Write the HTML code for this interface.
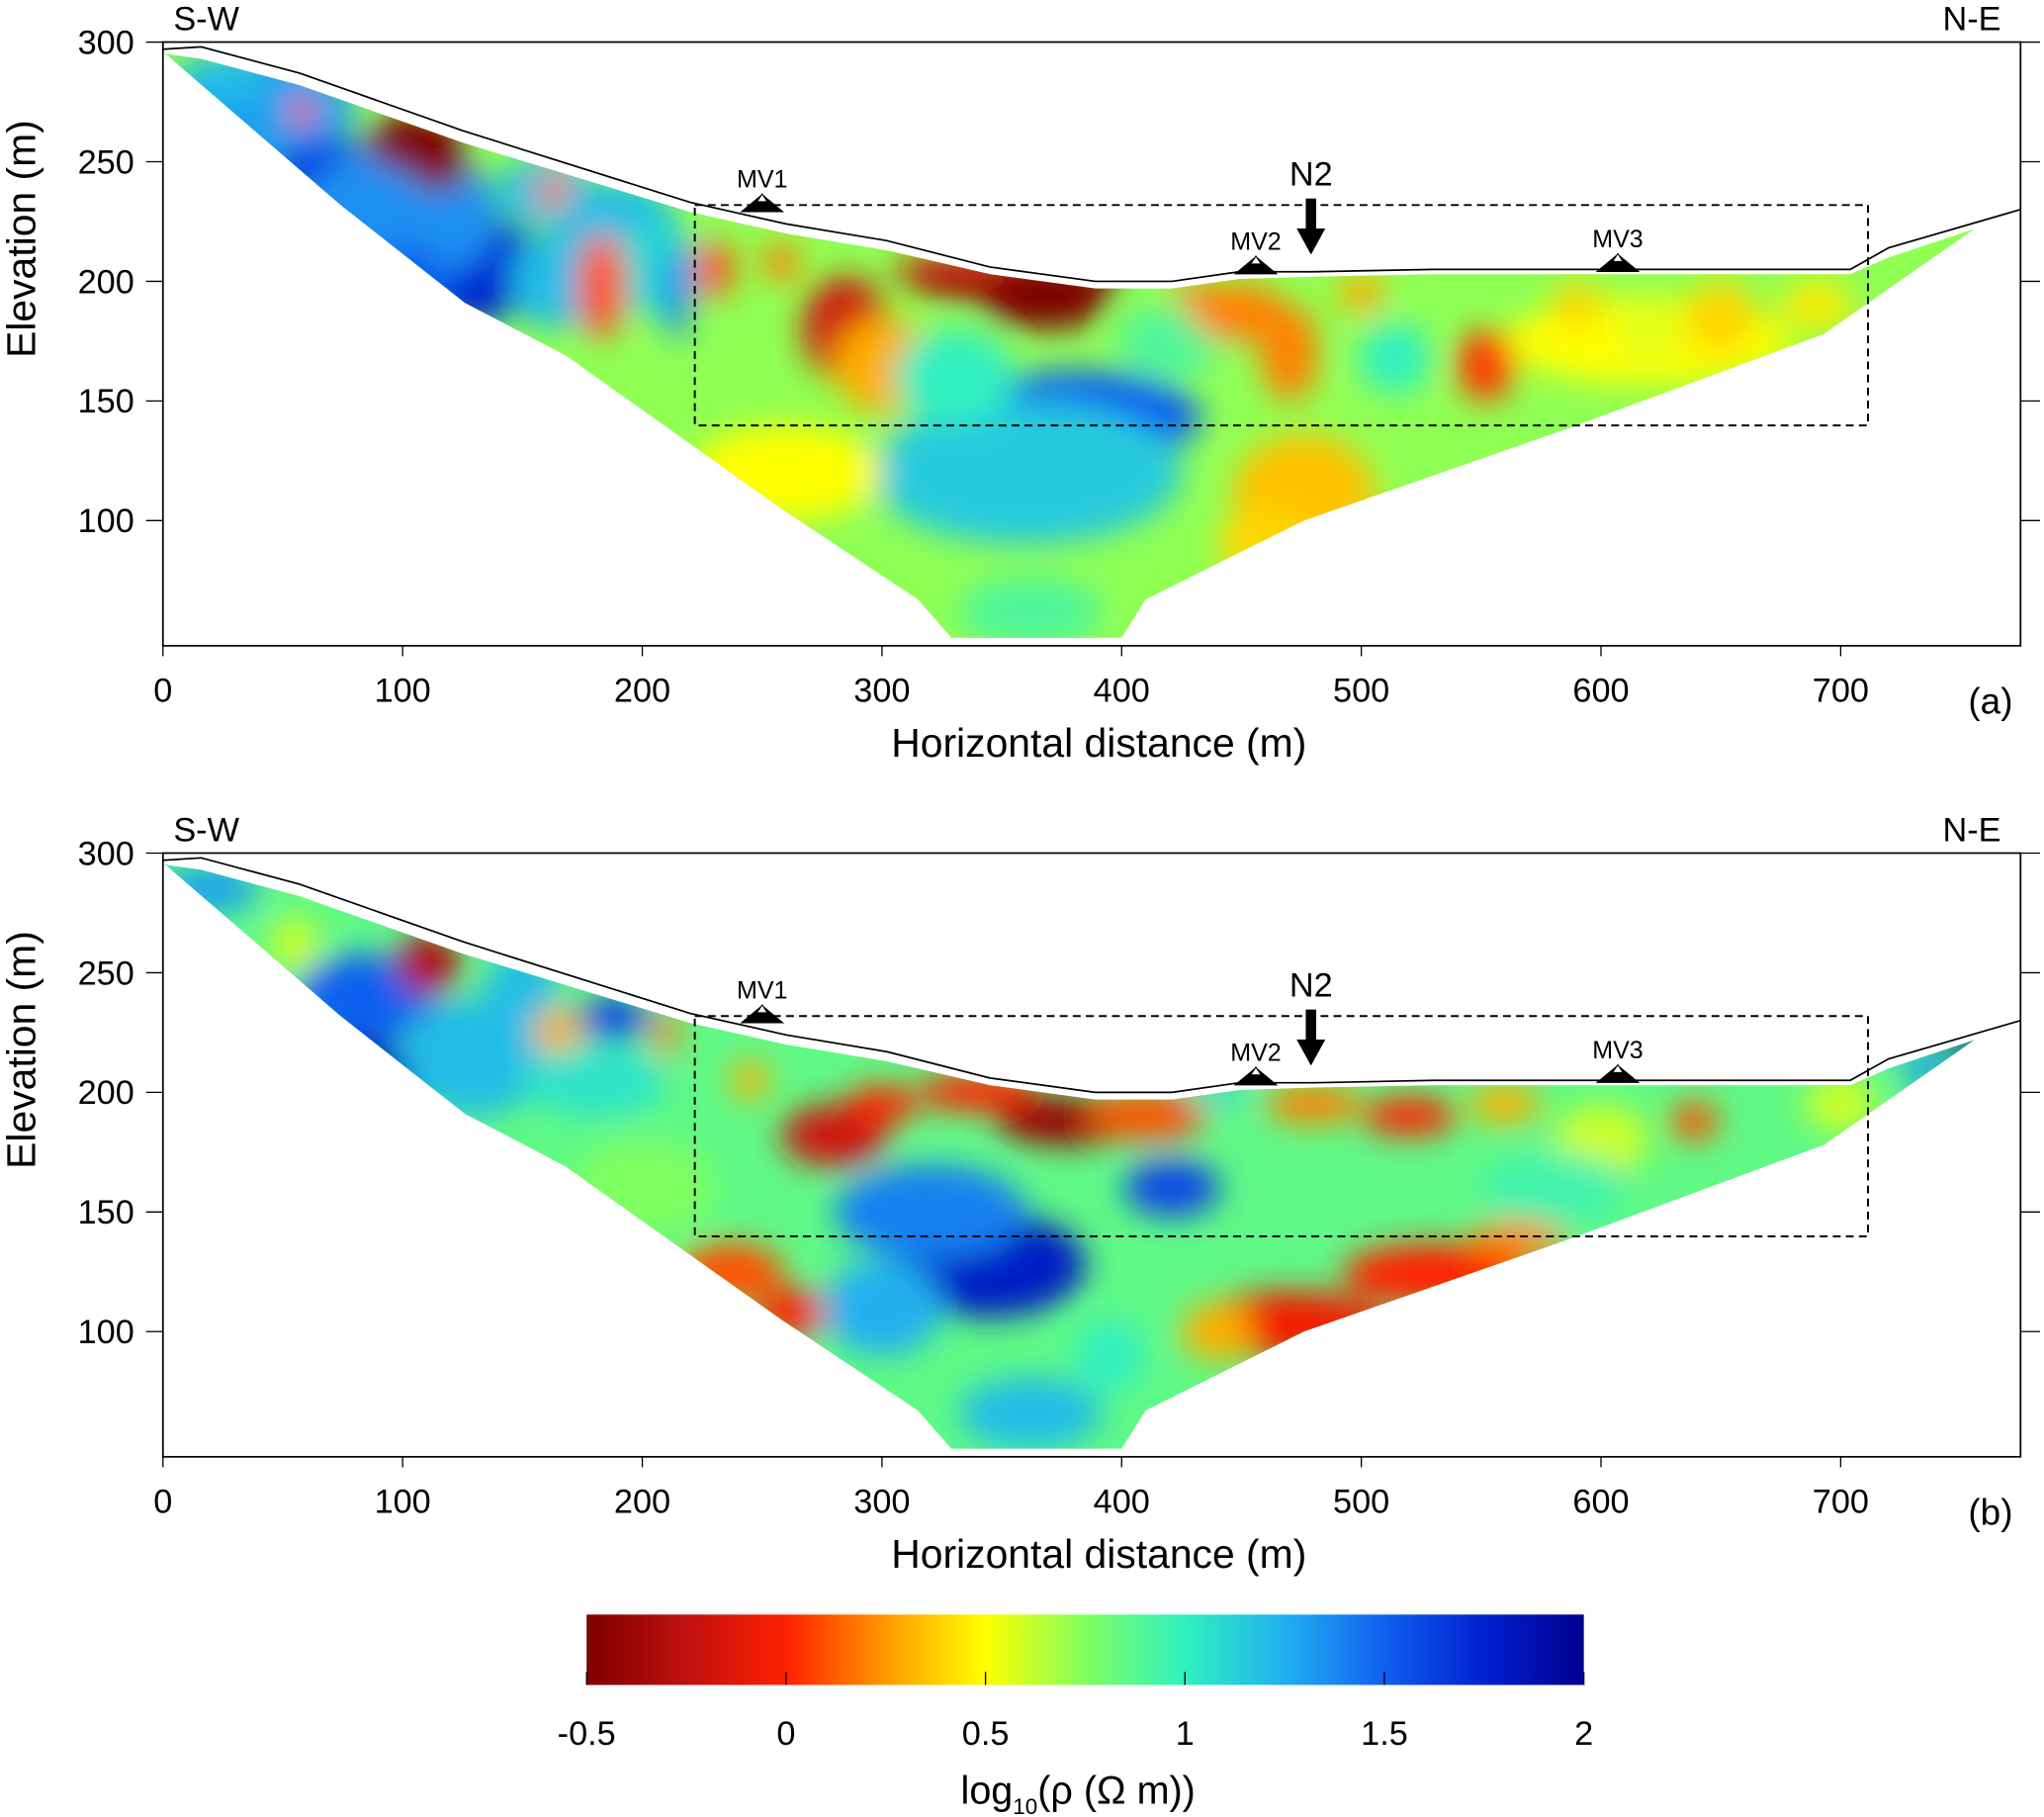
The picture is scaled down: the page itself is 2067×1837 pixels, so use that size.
<!DOCTYPE html>
<html><head><meta charset="utf-8">
<style>
html,body{margin:0;padding:0;background:#fff;}
svg{display:block;font-family:"Liberation Sans",Arial,sans-serif;}
</style></head>
<body>
<svg id="fig" width="2067" height="1837" viewBox="0 0 1568 1393" xmlns="http://www.w3.org/2000/svg">
<defs>
<filter id="blur" x="-20%" y="-20%" width="140%" height="140%"><feGaussianBlur stdDeviation="12"/></filter>
<linearGradient id="cbar" x1="0" x2="1" y1="0" y2="0">
<stop offset="0" stop-color="#7f0000"/><stop offset="0.1" stop-color="#c01010"/><stop offset="0.2" stop-color="#ff2000"/>
<stop offset="0.3" stop-color="#ff9900"/><stop offset="0.4" stop-color="#ffff00"/><stop offset="0.5" stop-color="#80ff60"/>
<stop offset="0.6" stop-color="#30f0c0"/><stop offset="0.7" stop-color="#20b0f0"/><stop offset="0.8" stop-color="#1060f0"/>
<stop offset="0.9" stop-color="#0020d0"/><stop offset="1" stop-color="#00008f"/>
</linearGradient>
</defs>
<g id="panels"></g>
<g>
<rect x="450" y="1238" width="765" height="54" fill="url(#cbar)"/>
<g id="cbticks"></g>
<text x="827" y="1383" font-size="30" text-anchor="middle">log<tspan font-size="17" dy="8">10</tspan><tspan dy="-8">(ρ (Ω m))</tspan></text>
</g>
</svg>
<script>
// ---- data ----
const xTicks = [0,100,200,300,400,500,600,700];
const yTicks = [100,150,200,250,300];
const cbTicks = [-0.5,0,0.5,1,1.5,2];
const topo = [[0,297],[16,298],[57,287],[125,263],[220,233],[260,224],[302,217],[345,206],[389,200],[421,200],[449,204],[480,204],[530,205],[704,205],[720,214],[775,230]];
const sectionTop = [[2,295],[16,293],[57,282],[125,258],[220,229],[260,220],[302,213],[345,203],[389,197],[421,197],[449,201],[480,202],[530,203],[704,203],[720,210],[756,222]];
const sectionBottom = [[756,222],[693,178],[585,138],[476,100],[410,67],[400,51],[329,51],[315,67],[258,105],[168,169],[126,191],[74,232],[0,296]];
const bgA = 0.72, bgB = 0.85;
// blobs: [distance m, elevation m, log10 rho, rx m, ry m]
const blobsA = [
 [40,272,1.3,40,25],[70,245,1.6,25,15],[130,205,1.75,30,22],[100,228,1.35,40,30],[160,238,1.2,20,15],
 [190,222,1.2,25,20],[205,205,1.1,20,20],[165,200,1.2,20,20],[25,285,1.2,20,10],[100,200,1.5,20,15],
 [58,271,0.0,5,6],[105,258,-0.5,20,12],[115,248,-0.5,12,10],[163,238,0.2,7,7],
 [183,198,0.1,10,22],[215,195,1.4,5,20],[230,205,0.1,8,12],[258,208,0.2,8,8],
 [285,180,-0.2,18,22],[300,165,0.3,20,20],[356,200,-0.5,45,9],[368,190,-0.5,25,10],[330,205,-0.2,25,6],
 [383,143,1.5,50,20],[360,120,1.15,65,30],[330,160,1.0,25,20],[420,175,0.9,22,15],
 [620,175,0.5,60,18],
 [476,111,0.35,30,25],[460,90,0.4,20,15],[552,165,0.05,12,15],[514,168,1.0,15,15],[449,187,0.2,20,12],
 [430,195,0.2,10,5],[470,170,0.2,12,20],[500,195,0.3,10,8],[590,190,0.4,10,10],[620,180,0.55,15,15],
 [650,185,0.4,15,15],[690,190,0.45,15,10],[362,62,0.9,30,15],[260,120,0.5,40,20]
];
const blobsB = [
 [20,285,1.3,20,10],[55,262,0.6,10,12],[85,240,1.5,30,18],[80,205,1.8,30,18],[130,215,1.2,30,25],
 [111,254,-0.3,13,13],[150,245,1.2,15,15],[188,231,1.6,15,9],[165,225,0.3,10,10],[210,225,0.2,5,10],
 [180,205,1.05,30,15],[237,125,0.1,22,12],[262,108,0.0,15,10],[200,160,0.75,30,20],
 [245,205,0.3,8,8],[280,182,-0.2,22,13],[300,195,0.0,15,8],[340,200,0.0,25,8],[378,188,-0.4,30,10],
 [410,190,0.1,25,10],[440,200,1.1,12,5],[480,195,0.2,20,8],[520,190,0.0,20,8],[560,195,0.3,15,8],
 [421,160,1.6,20,12],[345,128,1.8,40,22],[320,150,1.4,40,20],[300,110,1.25,25,20],
 [470,103,-0.05,40,14],[530,124,0.0,38,13],[565,138,0.2,20,8],[440,100,0.3,15,12],
 [362,66,1.2,30,15],[395,90,1.0,15,15],[639,188,0.1,10,8],[600,180,0.6,20,15],[700,195,0.6,15,12],
 [750,220,2.0,8,6],[735,210,1.3,10,8],[580,160,0.95,30,15]
];
// ---- colour map ----
const cmStops=[[-0.5,[127,0,0]],[-0.25,[192,16,16]],[0,[255,32,0]],[0.25,[255,153,0]],[0.5,[255,255,0]],[0.75,[128,255,96]],[1,[48,240,192]],[1.25,[32,176,240]],[1.5,[16,96,240]],[1.75,[0,32,208]],[2,[0,0,143]]];
function cmap(v){v=Math.max(-0.5,Math.min(2,v));for(let i=0;i<cmStops.length-1;i++){const a=cmStops[i],b=cmStops[i+1];if(v<=b[0]){const t=(v-a[0])/(b[0]-a[0]);return 'rgb('+a[1].map((c,k)=>Math.round(c+(b[1][k]-c)*t)).join(',')+')';}}return 'rgb(0,0,143)';}
const NS='http://www.w3.org/2000/svg';
function el(tag,attrs,parent){const e=document.createElementNS(NS,tag);for(const k in attrs)e.setAttribute(k,attrs[k]);parent.appendChild(e);return e;}
const panels=document.getElementById('panels');
function drawPanel(top,blobs,bg,label,id){
  const xs=m=>125+m*1.8386, ys=e=>top+(300-e)*1.835, bottom=top+463;
  const g=el('g',{},panels);
  
  
  const poly=sectionTop.concat(sectionBottom).map(p=>xs(p[0])+','+ys(p[1])).join(' ');
  const cp=el('clipPath',{id:'clip'+id},g);
  el('polygon',{points:poly},cp);
  const sec=el('g',{'clip-path':'url(#clip'+id+')'},g);
  
  
  el('polygon',{points:poly,fill:cmap(bg)},sec);
  const bg2=el('g',{filter:'url(#blur)'},sec);
  blobs.forEach(b=>{const e=el('ellipse',{cx:xs(b[0]),cy:ys(b[1]),rx:b[3]*1.8386,ry:b[4]*1.835,fill:cmap(b[2])},bg2);
    
    });
  const tl=el('polyline',{points:topo.map(p=>xs(p[0])+','+ys(p[1])).join(' '),fill:'none',stroke:'#000','stroke-width':1.3},g);
  
  
  const fr=el('rect',{x:125,y:top,width:1425,height:463,fill:'none',stroke:'#000','stroke-width':1.3},g);
  
  
  const db=el('rect',{x:533,y:top+125,width:900,height:169,fill:'none',stroke:'#000','stroke-width':1.5,'stroke-dasharray':'6,4'},g);
  
  
  xTicks.forEach(t=>{el('line',{x1:xs(t),x2:xs(t),y1:bottom,y2:bottom+8,stroke:'#000'},g);
    const tx=el('text',{x:xs(t),y:bottom+43,'font-size':26,'text-anchor':'middle'},g);tx.textContent=t;
    
    });
  yTicks.forEach(t=>{el('line',{x1:112,x2:125,y1:ys(t),y2:ys(t),stroke:'#000'},g);
    el('line',{x1:1550,x2:1565,y1:ys(t),y2:ys(t),stroke:'#000'},g);
    const tx=el('text',{x:103,y:ys(t)+9,'font-size':26,'text-anchor':'end'},g);tx.textContent=t;
    
    });
  const xt=el('text',{x:843,y:bottom+85,'font-size':31,'text-anchor':'middle'},g);xt.textContent='Horizontal distance (m)';
  
  
  const yt=el('text',{x:0,y:0,'font-size':31,'text-anchor':'middle',transform:'translate(27,'+(top+151)+') rotate(-90)'},g);yt.textContent='Elevation (m)';
  
  
  const pl=el('text',{x:1527,y:bottom+52,'font-size':28,'text-anchor':'middle'},g);pl.textContent=label;
  
  
  const sw=el('text',{x:133,y:top-9,'font-size':26},g);sw.textContent='S-W';
  
  
  const ne=el('text',{x:1535,y:top-9,'font-size':26,'text-anchor':'end'},g);ne.textContent='N-E';
  
  
  [['MV1',250,230],['MV2',456,204],['MV3',607,205]].forEach(m=>{
    const x=xs(m[1]),y=ys(m[2]);
    const mk=el('g',{},g);
    
    
    el('polygon',{points:(x-17)+','+(y+2)+' '+x+','+(y-12)+' '+(x+17)+','+(y+2),fill:'#000'},mk);
    el('polygon',{points:(x-4)+','+(y-6)+' '+x+','+(y-12)+' '+(x+4)+','+(y-6),fill:'#fff',stroke:'#000','stroke-width':0.8},mk);
    const t=el('text',{x:x,y:y-17,'font-size':19,'text-anchor':'middle'},mk);t.textContent=m[0];
  });
  const ar=el('g',{},g);
  
  
  const ax=xs(479);
  el('rect',{x:ax-4,y:top+120,width:8,height:25,fill:'#000'},ar);
  el('polygon',{points:(ax-11)+','+(top+143)+' '+(ax+11)+','+(top+143)+' '+ax+','+(top+163),fill:'#000'},ar);
  const nt=el('text',{x:ax,y:top+110,'font-size':26,'text-anchor':'middle'},ar);nt.textContent='N2';
}
drawPanel(32,blobsA,bgA,'(a)','a');
drawPanel(654,blobsB,bgB,'(b)','b');
const cbt=document.getElementById('cbticks');
cbTicks.forEach(v=>{const x=450+(v+0.5)/2.5*765;
  el('line',{x1:x,x2:x,y1:1282,y2:1292,stroke:'#000'},cbt);
  const t=el('text',{x:x,y:1338,'font-size':26,'text-anchor':'middle'},cbt);t.textContent=v;
  
  });
</script>
</body></html>
